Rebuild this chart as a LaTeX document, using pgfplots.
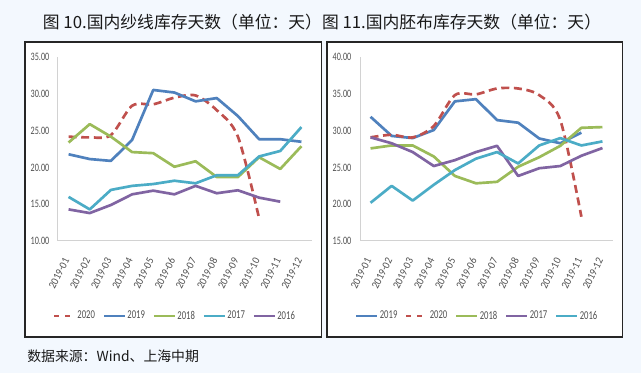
\documentclass[border=0pt]{standalone}
\usepackage{fontspec}
\usepackage{pgfplots}
\pgfplotsset{compat=1.18}
\newfontfamily\cjk{Noto Sans CJK SC}
\newfontfamily\tickfont[FakeStretch=0.72]{Carlito}
\newfontfamily\xfont[FakeStretch=0.9]{Carlito}
\definecolor{cblue}{HTML}{4F81BD}
\definecolor{cred}{HTML}{C0504D}
\definecolor{cgreen}{HTML}{9BBB59}
\definecolor{ccyan}{HTML}{4BACC6}
\definecolor{cpurple}{HTML}{8064A2}
\definecolor{bg}{RGB}{243,248,254}
\definecolor{axgray}{RGB}{210,210,210}
\definecolor{tk}{RGB}{80,80,80}

\pgfplotsset{
  panel/.style={
    scale only axis, height=137.8pt,
    anchor=south west,
    xmin=-0.5, xmax=11.5,
    axis x line*=bottom, axis y line*=left,
    axis line style={axgray, line width=0.75pt},
    major tick length=0pt,
    xtick={0,...,11},
    xticklabels={2019-01,2019-02,2019-03,2019-04,2019-05,2019-06,2019-07,2019-08,2019-09,2019-10,2019-11,2019-12},
    /pgf/number format/assume math mode=true,
    yticklabel style={font=\tickfont\fontsize{8.5pt}{10pt}\selectfont, text=tk, xshift=-3pt,
      /pgf/number format/fixed, /pgf/number format/fixed zerofill, /pgf/number format/precision=2},
    xticklabel shift=10pt,
    xticklabel style={font=\xfont\fontsize{8.2pt}{10pt}\selectfont, text=tk, rotate=63, anchor=east},
    every axis plot/.append style={line width=2pt, line join=round, mark=none},
    legend columns=5,
    legend style={draw=none, fill=none, anchor=center,
      font=\tickfont\fontsize{9pt}{10pt}\selectfont, text=tk, inner sep=0pt,
      nodes={inner xsep=1pt},
      /tikz/every even column/.append style={column sep=5pt}},
    legend image code/.code={\draw[##1, line width=1.6pt] (0pt,0pt) -- (15.75pt,0pt);},
  },
  redleg/.style={legend image code/.code={\draw[cred, line width=1.6pt, dash pattern=on 3.75pt off 4.5pt] (0pt,0pt) -- (15.75pt,0pt);}},
}

\begin{document}
\begin{tikzpicture}
\begin{scope}[x=0.75pt,y=-0.75pt]
  \fill[bg] (0,0) rectangle (641,373);
  \fill[white] (25,41.7) rectangle (321.5,337);
  \fill[white] (327,41.7) rectangle (622.5,337);
  \draw[black!85, line width=1.3pt] (25,41.7) rectangle (321.5,337);
  \draw[black!85, line width=1.3pt] (327,41.7) rectangle (622.5,337);
  \node[font=\cjk\fontsize{12.6pt}{14pt}\selectfont, text=black!90] at (322,22.5)
    {图 10.国内纱线库存天数（单位：天）图 11.国内胚布库存天数（单位：天）};
  \node[font=\cjk\fontsize{10.4pt}{12pt}\selectfont, text=black!90, anchor=west, inner sep=0pt] at (27,356)
    {数据来源：Wind、上海中期};
\end{scope}

% ---- left panel: yarn ----
\begin{axis}[panel, at={(43.5pt,-180.75pt)}, width=190.5pt,
  ymin=10, ymax=35, ytick={10,15,20,25,30,35},
  legend style={at={(axis description cs:0.459,-0.408)}}]
\addplot[cred, smooth, dash pattern=on 6pt off 3.5pt, redleg] coordinates {
 (0,24.2) (1,24.1) (2,24.4) (3,28.4) (4,28.6) (5,29.5) (6,29.8) (7,27.8) (8,24.2) (9,13.1)};
\addlegendentry{2020}
\addplot[cblue] coordinates {
 (0,21.8) (1,21.15) (2,20.9) (3,23.75) (4,30.55) (5,30.2) (6,29.0) (7,29.45) (8,27.0) (9,23.85) (10,23.85) (11,23.5)};
\addlegendentry{2019}
\addplot[cgreen] coordinates {
 (0,23.4) (1,25.9) (2,24.2) (3,22.1) (4,21.95) (5,20.1) (6,20.85) (7,18.7) (8,18.7) (9,21.4) (10,19.8) (11,22.9)};
\addlegendentry{2018}
\addplot[ccyan] coordinates {
 (0,16.0) (1,14.3) (2,16.95) (3,17.5) (4,17.75) (5,18.2) (6,17.85) (7,18.95) (8,18.95) (9,21.5) (10,22.25) (11,25.5)};
\addlegendentry{2017}
\addplot[cpurple] coordinates {
 (0,14.3) (1,13.8) (2,14.9) (3,16.35) (4,16.85) (5,16.35) (6,17.5) (7,16.5) (8,16.9) (9,15.9) (10,15.35)};
\addlegendentry{2016}
\end{axis}

% ---- right panel: grey cloth ----
\begin{axis}[panel, at={(270pt,-180.75pt)}, width=189.75pt,
  ymin=15, ymax=40, ytick={15,20,25,30,35,40},
  legend style={at={(axis description cs:0.4625,-0.408)}}]
\addplot[cblue] coordinates {
 (0,31.9) (1,29.3) (2,29.0) (3,30.1) (4,34.0) (5,34.3) (6,31.45) (7,31.1) (8,28.95) (9,28.3) (10,29.75)};
\addlegendentry{2019}
\addplot[cred, smooth, dash pattern=on 6pt off 3.5pt, redleg] coordinates {
 (0,29.1) (1,29.45) (2,29.1) (3,30.65) (4,34.85) (5,34.95) (6,35.75) (7,35.75) (8,34.85) (9,31.45) (10,18.3)};
\addlegendentry{2020}
\addplot[cgreen] coordinates {
 (0,27.6) (1,28.0) (2,28.0) (3,26.5) (4,23.85) (5,22.85) (6,23.05) (7,25.1) (8,26.4) (9,27.95) (10,30.4) (11,30.5)};
\addlegendentry{2018}
\addplot[cpurple] coordinates {
 (0,29.1) (1,28.3) (2,27.1) (3,25.2) (4,26.0) (5,27.1) (6,27.95) (7,23.85) (8,24.9) (9,25.2) (10,26.6) (11,27.65)};
\addlegendentry{2017}
\addplot[ccyan] coordinates {
 (0,20.2) (1,22.5) (2,20.5) (3,22.65) (4,24.65) (5,26.2) (6,27.1) (7,25.55) (8,28.0) (9,29.0) (10,28.0) (11,28.55)};
\addlegendentry{2016}
\end{axis}
\end{tikzpicture}
\end{document}
